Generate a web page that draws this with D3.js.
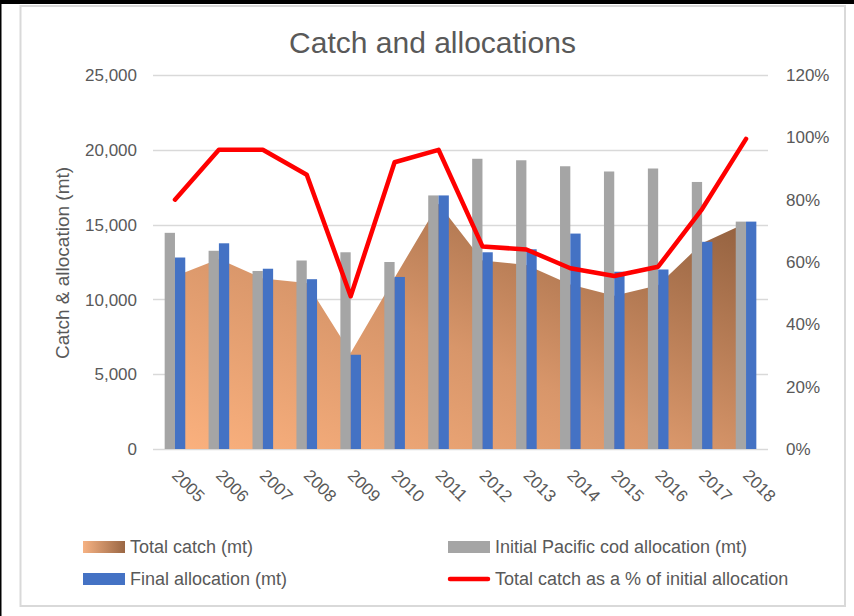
<!DOCTYPE html>
<html>
<meta charset="utf-8">
<head>
  <script src="https://d3js.org/d3.v7.min.js"></script>
  <style>
    body { margin: 0; background: #fff; }
    text { font-family: "Liberation Sans", Arial, sans-serif; fill: #595959; }
    .grid line { stroke: #d9d9d9; stroke-width: 1.3px; }
    .tick-label { font-size: 17px; }
    .legend text { font-size: 18px; }
  </style>
</head>
<body>
<div id="chart"></div>

<script type="text/javascript">
  "use strict"

  var years = ["2005", "2006", "2007", "2008", "2009", "2010", "2011",
               "2012", "2013", "2014", "2015", "2016", "2017", "2018"];

  // Initial Pacific cod allocation (mt)
  var initialAlloc = [14450, 13250, 11900, 12600, 13150, 12500, 16950,
                      19400, 19300, 18900, 18550, 18750, 17850, 15200];

  // Final allocation (mt)
  var finalAlloc = [12800, 13750, 12050, 11350, 6300, 11500, 16950,
                    13150, 13350, 14400, 11850, 12000, 13850, 15200];

  // Total catch (mt)
  var totalCatch = [11550, 12700, 11400, 11100, 6420, 11450, 16400,
                    12600, 12300, 11000, 10250, 10950, 13750, 15100];

  // Total catch as a % of initial allocation
  var catchPct = [0.80, 0.96, 0.96, 0.88, 0.49, 0.92, 0.96,
                  0.65, 0.64, 0.58, 0.555, 0.585, 0.77, 0.995];

  var leftTicks = [0, 5000, 10000, 15000, 20000, 25000];
  var rightTicks = [0, 0.2, 0.4, 0.6, 0.8, 1.0, 1.2];

  var width = 854,
      height = 616;

  var plot = { left: 153, right: 768, top: 75, bottom: 449 };

  var svg = d3.select("#chart")
      .append("svg")
      .attr("width", width)
      .attr("height", height);

  var defs = svg.append("defs");

  var areaGrad = defs.append("linearGradient")
      .attr("id", "catchGrad")
      .attr("x1", "0").attr("y1", "1")
      .attr("x2", "1").attr("y2", "0");
  areaGrad.append("stop").attr("offset", "0%").attr("stop-color", "#fbb17e");
  areaGrad.append("stop").attr("offset", "45%").attr("stop-color", "#d8966a");
  areaGrad.append("stop").attr("offset", "100%").attr("stop-color", "#8e5d3c");

  var legendGrad = defs.append("linearGradient")
      .attr("id", "legendGrad")
      .attr("x1", "0").attr("y1", "0")
      .attr("x2", "1").attr("y2", "0");
  legendGrad.append("stop").attr("offset", "0%").attr("stop-color", "#f6b283");
  legendGrad.append("stop").attr("offset", "100%").attr("stop-color", "#9a6744");

  // frame
  svg.append("rect")
      .attr("x", 0).attr("y", 0)
      .attr("width", width).attr("height", 4)
      .attr("fill", "#000");
  svg.append("rect")
      .attr("x", 0).attr("y", 0)
      .attr("width", 1.5).attr("height", height)
      .attr("fill", "#000");
  svg.append("rect")
      .attr("x", 20.5).attr("y", 6)
      .attr("width", 824.5).attr("height", 600)
      .attr("fill", "none")
      .attr("stroke", "#d9d9d9")
      .attr("stroke-width", 2);

  var x = d3.scaleBand()
      .domain(years)
      .range([plot.left, plot.right]);

  var barW = 10.3;
  var x1 = d3.scaleBand()
      .domain(["initial", "final"])
      .range([x.bandwidth() / 2 - barW, x.bandwidth() / 2 + barW]);

  var y = d3.scaleLinear()
      .domain([0, 25000])
      .range([plot.bottom, plot.top]);

  var yPct = d3.scaleLinear()
      .domain([0, 1.2])
      .range([plot.bottom, plot.top]);

  function cx(d) { return x(d) + x.bandwidth() / 2; }

  // gridlines
  svg.append("g")
      .attr("class", "grid")
    .selectAll("line")
      .data(leftTicks)
    .enter().append("line")
      .attr("x1", plot.left)
      .attr("x2", plot.right)
      .attr("y1", function(d) { return Math.round(y(d)) + 0.5; })
      .attr("y2", function(d) { return Math.round(y(d)) + 0.5; });

  // total catch area
  var area = d3.area()
      .x(function(d, i) { return cx(years[i]); })
      .y0(plot.bottom)
      .y1(function(d) { return y(d); });

  svg.append("path")
      .datum(totalCatch)
      .attr("d", area)
      .attr("fill", "url(#catchGrad)");

  // bars
  var bars = svg.append("g");
  bars.selectAll("rect.initial")
      .data(initialAlloc)
    .enter().append("rect")
      .attr("class", "initial")
      .attr("x", function(d, i) { return x(years[i]) + x1("initial"); })
      .attr("width", x1.bandwidth())
      .attr("y", function(d) { return y(d); })
      .attr("height", function(d) { return plot.bottom - y(d); })
      .attr("fill", "#a5a5a5");

  bars.selectAll("rect.final")
      .data(finalAlloc)
    .enter().append("rect")
      .attr("class", "final")
      .attr("x", function(d, i) { return x(years[i]) + x1("final"); })
      .attr("width", x1.bandwidth())
      .attr("y", function(d) { return y(d); })
      .attr("height", function(d) { return plot.bottom - y(d); })
      .attr("fill", "#4472c4");

  // pct line
  var line = d3.line()
      .x(function(d, i) { return cx(years[i]); })
      .y(function(d) { return yPct(d); });

  svg.append("path")
      .datum(catchPct)
      .attr("d", line)
      .attr("fill", "none")
      .attr("stroke", "#ff0000")
      .attr("stroke-width", 4.5)
      .attr("stroke-linejoin", "round")
      .attr("stroke-linecap", "round");

  // left axis labels
  var fmtNum = d3.format(",");
  svg.append("g")
    .selectAll("text")
      .data(leftTicks)
    .enter().append("text")
      .attr("class", "tick-label")
      .attr("x", 137)
      .attr("y", function(d) { return y(d); })
      .attr("dy", "0.36em")
      .attr("text-anchor", "end")
      .text(function(d) { return fmtNum(d); });

  // right axis labels
  var fmtPct = d3.format(".0%");
  svg.append("g")
    .selectAll("text")
      .data(rightTicks)
    .enter().append("text")
      .attr("class", "tick-label")
      .attr("x", 786)
      .attr("y", function(d) { return yPct(d); })
      .attr("dy", "0.36em")
      .attr("text-anchor", "start")
      .text(function(d) { return fmtPct(d); });

  // x labels, rotated
  svg.append("g")
    .selectAll("text")
      .data(years)
    .enter().append("text")
      .attr("class", "tick-label")
      .attr("transform", function(d) { return "translate(" + (cx(d) - 4) + ",476.5) rotate(45)"; })
      .attr("text-anchor", "start")
      .text(function(d) { return d; });

  // axis title
  svg.append("text")
      .attr("transform", "translate(69,263) rotate(-90)")
      .attr("text-anchor", "middle")
      .style("font-size", "19px")
      .text("Catch & allocation (mt)");

  // chart title
  svg.append("text")
      .attr("x", 432.5)
      .attr("y", 52.5)
      .attr("text-anchor", "middle")
      .style("font-size", "30px")
      .text("Catch and allocations");

  // legend
  var legend = svg.append("g").attr("class", "legend");

  var legendItems = [
    { label: "Total catch (mt)", col: 0, row: 0, type: "grad" },
    { label: "Initial Pacific cod allocation (mt)", col: 1, row: 0, type: "gray" },
    { label: "Final allocation (mt)", col: 0, row: 1, type: "blue" },
    { label: "Total catch as a % of initial allocation", col: 1, row: 1, type: "line" }
  ];

  var colX = [83, 448],
      rowY = [547, 579];

  legendItems.forEach(function(it) {
    var lx = colX[it.col], ly = rowY[it.row];
    if (it.type === "line") {
      legend.append("line")
          .attr("x1", lx + 2).attr("x2", lx + 40)
          .attr("y1", ly).attr("y2", ly)
          .attr("stroke", "#ff0000")
          .attr("stroke-width", 4.5)
          .attr("stroke-linecap", "round");
    } else {
      legend.append("rect")
          .attr("x", lx).attr("y", ly - 6)
          .attr("width", 42).attr("height", 12)
          .attr("fill", it.type === "grad" ? "url(#legendGrad)" : (it.type === "gray" ? "#a5a5a5" : "#4472c4"));
    }
    legend.append("text")
        .attr("x", lx + 47)
        .attr("y", ly)
        .attr("dy", "0.36em")
        .text(it.label);
  });
</script>
</body>
</html>
